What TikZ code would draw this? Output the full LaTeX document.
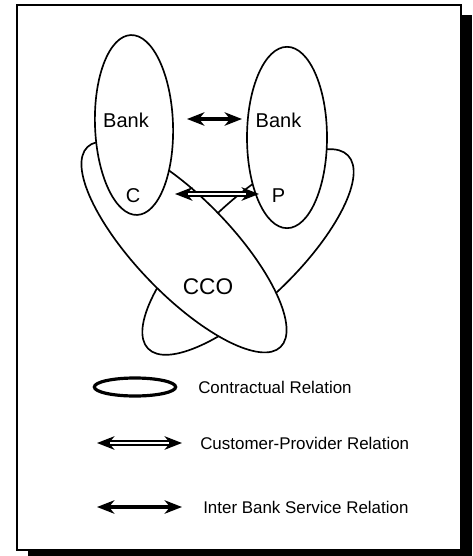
\documentclass[tikz,border=0pt]{standalone}
\usepackage{fontspec}
\setmainfont{Liberation Sans}
\usetikzlibrary{arrows.meta,shapes.geometric}

\begin{document}
\begin{tikzpicture}[x=0.75pt,y=-0.75pt,
  >={Stealth[length=13pt,width=10pt,inset=4pt]},
  relation/.style={draw, ellipse, line width=1.25pt, fill=white, inner sep=0pt},
  bigtext/.style={font=\fontsize{15}{15}\selectfont, inner sep=0pt},
  ccotext/.style={font=\fontsize{17}{17}\selectfont, inner sep=0pt},
  legtext/.style={font=\fontsize{12.7}{13}\selectfont, inner sep=0pt, anchor=west},
  ibarrow/.style={line width=2.3pt, <->},
  cparrow/.style={line width=3.8pt, <->},
  cpgap/.style={white, line width=1.3pt, shorten <=10pt, shorten >=10pt},
  legendell/.style={draw, ellipse, line width=2.4pt, inner sep=0pt,
    minimum width=61pt, minimum height=13.5pt}
]
\useasboundingbox (0,0) rectangle (472,556);

% page frame with drop shadow
\fill[black] (28,15) rectangle (472,556);
\draw[fill=white, line width=1.6pt] (17,5) rectangle (461,550);

% contractual relations, back to front
\node[relation, minimum width=208.5pt, minimum height=73.5pt, rotate=44] (xrel) at (248,252) {};
\node[relation, minimum width=208.5pt, minimum height=72pt, rotate=-46] (cco) at (184,247) {};
\node[relation, minimum width=58.5pt, minimum height=135pt, rotate=2] (bankl) at (134,125) {};
\node[relation, minimum width=60pt, minimum height=136pt] (bankr) at (287,137.5) {};

% labels
\node[bigtext] (bankltxt) at (126,120) {Bank};
\node[bigtext] (bankrtxt) at (278.5,120) {Bank};
\node[bigtext] (ctxt) at (133,196) {C};
\node[bigtext] (ptxt) at (278.5,196) {P};
\node[ccotext] (ccotxt) at (208,287) {CCO};

% inter bank service relation
\coordinate (ib1) at (187,119);
\coordinate (ib2) at (242,119);
\draw[ibarrow] (ib1) -- (ib2);

% customer-provider relation
\coordinate (cp1) at (175,194);
\coordinate (cp2) at (259,194);
\draw[cparrow] (cp1) -- (cp2);
\draw[cpgap] (cp1) -- (cp2);

% legend
\node[legendell] (lgell) at (135,387) {};
\node[legtext] (lgtxt1) at (198,387) {Contractual Relation};

\coordinate (lcp1) at (97,443);
\coordinate (lcp2) at (182,443);
\draw[cparrow] (lcp1) -- (lcp2);
\draw[cpgap] (lcp1) -- (lcp2);
\node[legtext] (lgtxt2) at (200,443) {Customer-Provider Relation};

\coordinate (lib1) at (97,507);
\coordinate (lib2) at (182,507);
\draw[ibarrow] (lib1) -- (lib2);
\node[legtext] (lgtxt3) at (203,507) {Inter Bank Service Relation};
\end{tikzpicture}
\end{document}
